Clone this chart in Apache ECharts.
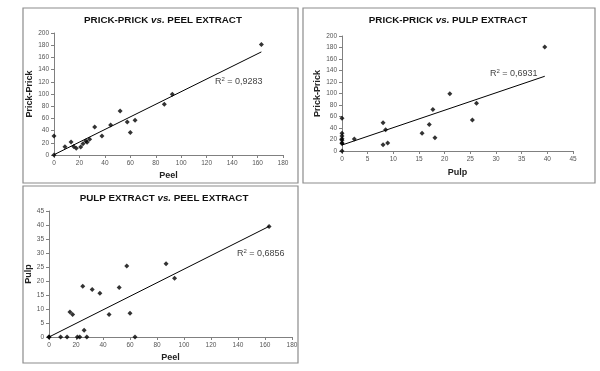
<!DOCTYPE html>
<html>
<head>
<meta charset="utf-8">
<script src="https://cdn.jsdelivr.net/npm/echarts@6/dist/echarts.min.js"></script>
<style>
  html, body { margin: 0; padding: 0; background: #fff; }
  #chart { width: 600px; height: 371px; }
</style>
</head>
<body>
<div id="chart"></div>
<script>
// one entry per subject, same order in the three arrays
var peel  = [0, 0, 8.6, 13.4, 15.5, 17.5, 21, 22.8, 25, 26, 28, 32, 37.7, 44.5, 52, 57.6, 60, 63.7, 86.7, 93, 163];
var pulp  = [0, 0, 0, 0, 8.9, 8, 0, 0, 18.1, 2.4, 0, 17, 15.6, 8, 17.7, 25.4, 8.5, 0, 26.2, 21, 39.5];
var prick = [31, 0, 13.7, 21.3, 14, 11, 13, 18.6, 23, 21, 26, 46, 31, 49, 72, 54, 37, 57, 83, 99.5, 181];

// trendline ends
var trendPrickPeel = [[0, 0.5], [163, 169]];
var trendPrickPulp = [[0, 10.4], [39.5, 130]];
var trendPulpPeel  = [[0, 0], [163, 39.5]];

var r2Values = ['0,9283', '0,6931', '0,6856'];

var FONT = 'Liberation Sans, Arial, sans-serif';
var AXIS_COLOR = '#808080';

function pairs(xs, ys) {
    return xs.map(function (x, i) { return [x, ys[i]]; });
}

function valueAxis(grid, max, interval, name, gap, isY) {
    return {
        type: 'value',
        gridIndex: grid,
        min: 0,
        max: max,
        interval: interval,
        name: name,
        nameLocation: 'middle',
        nameGap: gap,
        nameRotate: isY ? 90 : 0,
        nameTextStyle: { fontFamily: FONT, fontWeight: 'bold', fontSize: 9, color: '#222' },
        axisLine: { show: true, onZero: false, lineStyle: { color: AXIS_COLOR, width: 1 } },
        axisTick: { show: true, length: 3, lineStyle: { color: AXIS_COLOR } },
        axisLabel: { fontFamily: FONT, fontSize: 6.5, color: '#555', margin: 5 },
        splitLine: { show: false }
    };
}

function scatter(i, data) {
    return {
        type: 'scatter', xAxisIndex: i, yAxisIndex: i, data: data,
        symbol: 'diamond', symbolSize: 5,
        itemStyle: { color: '#000' }, z: 3
    };
}

function trend(i, data) {
    return {
        type: 'line', xAxisIndex: i, yAxisIndex: i, data: data,
        symbol: 'none', lineStyle: { color: '#000', width: 1 }, z: 2
    };
}

function title(x, y, a, b) {
    return {
        type: 'text', x: x, y: y,
        style: {
            text: '{b|' + a + ' }{i|vs.}{b| ' + b + '}',
            align: 'center', verticalAlign: 'middle',
            rich: {
                b: { fontFamily: FONT, fontWeight: 'bold', fontSize: 9.8, fill: '#111' },
                i: { fontFamily: FONT, fontWeight: 'bold', fontStyle: 'italic', fontSize: 9.8, fill: '#111' }
            }
        }
    };
}

function r2(x, y, v) {
    return {
        type: 'text', x: x, y: y,
        style: {
            text: '{t|R}{s|2}{t| = ' + v + '}',
            verticalAlign: 'middle',
            rich: {
                t: { fontFamily: FONT, fontSize: 9, fill: '#444' },
                s: { fontFamily: FONT, fontSize: 6, fill: '#444', verticalAlign: 'top', padding: [0, 0, 5, 0] }
            }
        }
    };
}

function frame(x, y, w, h) {
    return {
        type: 'rect', shape: { x: x, y: y, width: w, height: h },
        style: { fill: 'none', stroke: '#8c8c8c', lineWidth: 1.2 }
    };
}

var chart = echarts.init(document.getElementById('chart'));
chart.setOption({
    animation: false,
    backgroundColor: '#fff',
    grid: [
        { left: 54, top: 33, width: 229, height: 122 },
        { left: 342, top: 36, width: 231, height: 115 },
        { left: 49, top: 211, width: 243, height: 126 }
    ],
    xAxis: [
        valueAxis(0, 180, 20, 'Peel', 16, false),
        valueAxis(1, 45, 5, 'Pulp', 17, false),
        valueAxis(2, 180, 20, 'Peel', 16, false)
    ],
    yAxis: [
        valueAxis(0, 200, 20, 'Prick-Prick', 16, true),
        valueAxis(1, 200, 20, 'Prick-Prick', 16, true),
        valueAxis(2, 45, 5, 'Pulp', 11, true)
    ],
    series: [
        trend(0, trendPrickPeel),
        scatter(0, pairs(peel, prick)),
        trend(1, trendPrickPulp),
        scatter(1, pairs(pulp, prick)),
        trend(2, trendPulpPeel),
        scatter(2, pairs(peel, pulp))
    ],
    graphic: [
        frame(23, 8, 275, 175),
        frame(303, 8, 292, 175),
        frame(23, 186, 275, 177),
        title(163, 20, 'PRICK-PRICK', 'PEEL EXTRACT'),
        title(448, 20, 'PRICK-PRICK', 'PULP EXTRACT'),
        title(164, 198, 'PULP EXTRACT', 'PEEL EXTRACT'),
        r2(215, 82, r2Values[0]),
        r2(490, 74, r2Values[1]),
        r2(237, 254, r2Values[2])
    ]
});
</script>
</body>
</html>
